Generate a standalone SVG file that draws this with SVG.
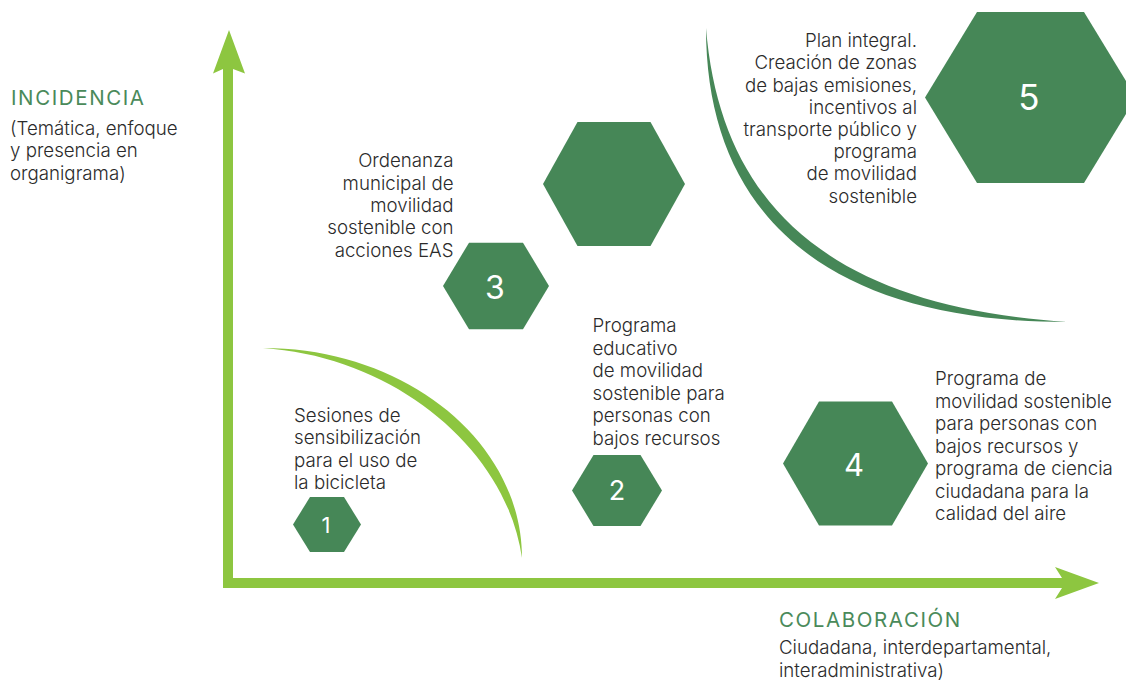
<svg xmlns="http://www.w3.org/2000/svg" width="1126" height="681" viewBox="0 0 1126 681">
<style>
.t{font-family:Inter,"Liberation Sans",sans-serif;font-size:18.7px;font-weight:300;fill:#2b2b2b}
.r{text-anchor:end}
.h{font-family:Inter,"Liberation Sans",sans-serif;font-size:20.5px;font-weight:400;fill:#4a8a5a;letter-spacing:1.6px}
.hex{fill:#468757}
.n{font-family:Inter,"Liberation Sans",sans-serif;font-weight:400;fill:#ffffff;text-anchor:middle}
.lg{fill:#8dc640}
.dg{fill:#468757}
</style>
<rect width="1126" height="681" fill="#ffffff"/>
<g id="axes">
<path class="lg" d="M223,588 L223,69 L213,73.5 L229,30 L245,73.5 L233,69 L233,578 L1062,578 L1055,567 L1099,583 L1055,599 L1062,588 Z"/>
</g>
<g id="connectors">
<path id="arc-low" class="lg" d="M263,348 C406,348 522,442 522,558 C507,451 397,357 263,348 Z"/>
<path id="arc-high" class="dg" d="M706,28 C706,219 832,322 1067,322 C838,307 721,212 706,28 Z"/>
</g>
<g id="axis-y-label">
<text class="h" x="11" y="105">INCIDENCIA</text>
<text class="t" x="10" y="135">(Temática, enfoque</text>
<text class="t" x="10" y="157">y presencia en</text>
<text class="t" x="10" y="179.5">organigrama)</text>
</g>
<g id="axis-x-label">
<text class="h" x="779" y="627">COLABORACIÓN</text>
<text class="t" x="779" y="653.5">Ciudadana, interdepartamental,</text>
<text class="t" x="779" y="676.5">interadministrativa)</text>
</g>
<g id="node1">
<polygon class="hex" points="293,524.5 310,497 344,497 361,524.5 344,552 310,552"/>
<text class="n" x="326" y="533" font-size="22">1</text>
<text class="t" x="294" y="421.5">Sesiones de</text>
<text class="t" x="294" y="444">sensibilización</text>
<text class="t" x="294" y="466.5">para el uso de</text>
<text class="t" x="294" y="488.5">la bicicleta</text>
</g>
<g id="node2">
<polygon class="hex" points="572,490.5 593.5,455 640.5,455 662,490.5 640.5,526 593.5,526"/>
<text class="n" x="617" y="499.5" font-size="27">2</text>
<text class="t" x="592.5" y="332">Programa</text>
<text class="t" x="592.5" y="354.5">educativo</text>
<text class="t" x="592.5" y="377">de movilidad</text>
<text class="t" x="592.5" y="399.5">sostenible para</text>
<text class="t" x="592.5" y="422">personas con</text>
<text class="t" x="592.5" y="444.5">bajos recursos</text>
</g>
<g id="node3">
<polygon class="hex" points="443,286 469,242.7 523,242.7 549,286 523,329.3 469,329.3"/>
<text class="n" x="495" y="298.5" font-size="32">3</text>
<text class="t r" x="453.5" y="167">Ordenanza</text>
<text class="t r" x="453.5" y="189.5">municipal de</text>
<text class="t r" x="453.5" y="212">movilidad</text>
<text class="t r" x="453.5" y="234">sostenible con</text>
<text class="t r" x="453.5" y="256.5">acciones EAS</text>
</g>
<g id="node-blank">
<polygon class="hex" points="543,184 577.5,122 650.5,122 685,184 650.5,246 577.5,246"/>
</g>
<g id="node4">
<polygon class="hex" points="783,463.5 819,401.5 892,401.5 928,463.5 892,525.5 819,525.5"/>
<text class="n" x="854" y="476" font-size="31">4</text>
<text class="t" x="935" y="385">Programa de</text>
<text class="t" x="935" y="407.5">movilidad sostenible</text>
<text class="t" x="935" y="430">para personas con</text>
<text class="t" x="935" y="452.5">bajos recursos y</text>
<text class="t" x="935" y="475">programa de ciencia</text>
<text class="t" x="935" y="497.5">ciudadana para la</text>
<text class="t" x="935" y="520">calidad del aire</text>
</g>
<g id="node5">
<polygon class="hex" points="925,97.5 977,12 1084,12 1136,97.5 1084,183 977,183"/>
<text class="n" x="1029" y="110" font-size="35">5</text>
<text class="t r" x="917" y="47">Plan integral.</text>
<text class="t r" x="917" y="69">Creación de zonas</text>
<text class="t r" x="917" y="91.5">de bajas emisiones,</text>
<text class="t r" x="917" y="113.5">incentivos al</text>
<text class="t r" x="917" y="135.5">transporte público y</text>
<text class="t r" x="917" y="158">programa</text>
<text class="t r" x="917" y="180">de movilidad</text>
<text class="t r" x="917" y="202.5">sostenible</text>
</g>
</svg>
